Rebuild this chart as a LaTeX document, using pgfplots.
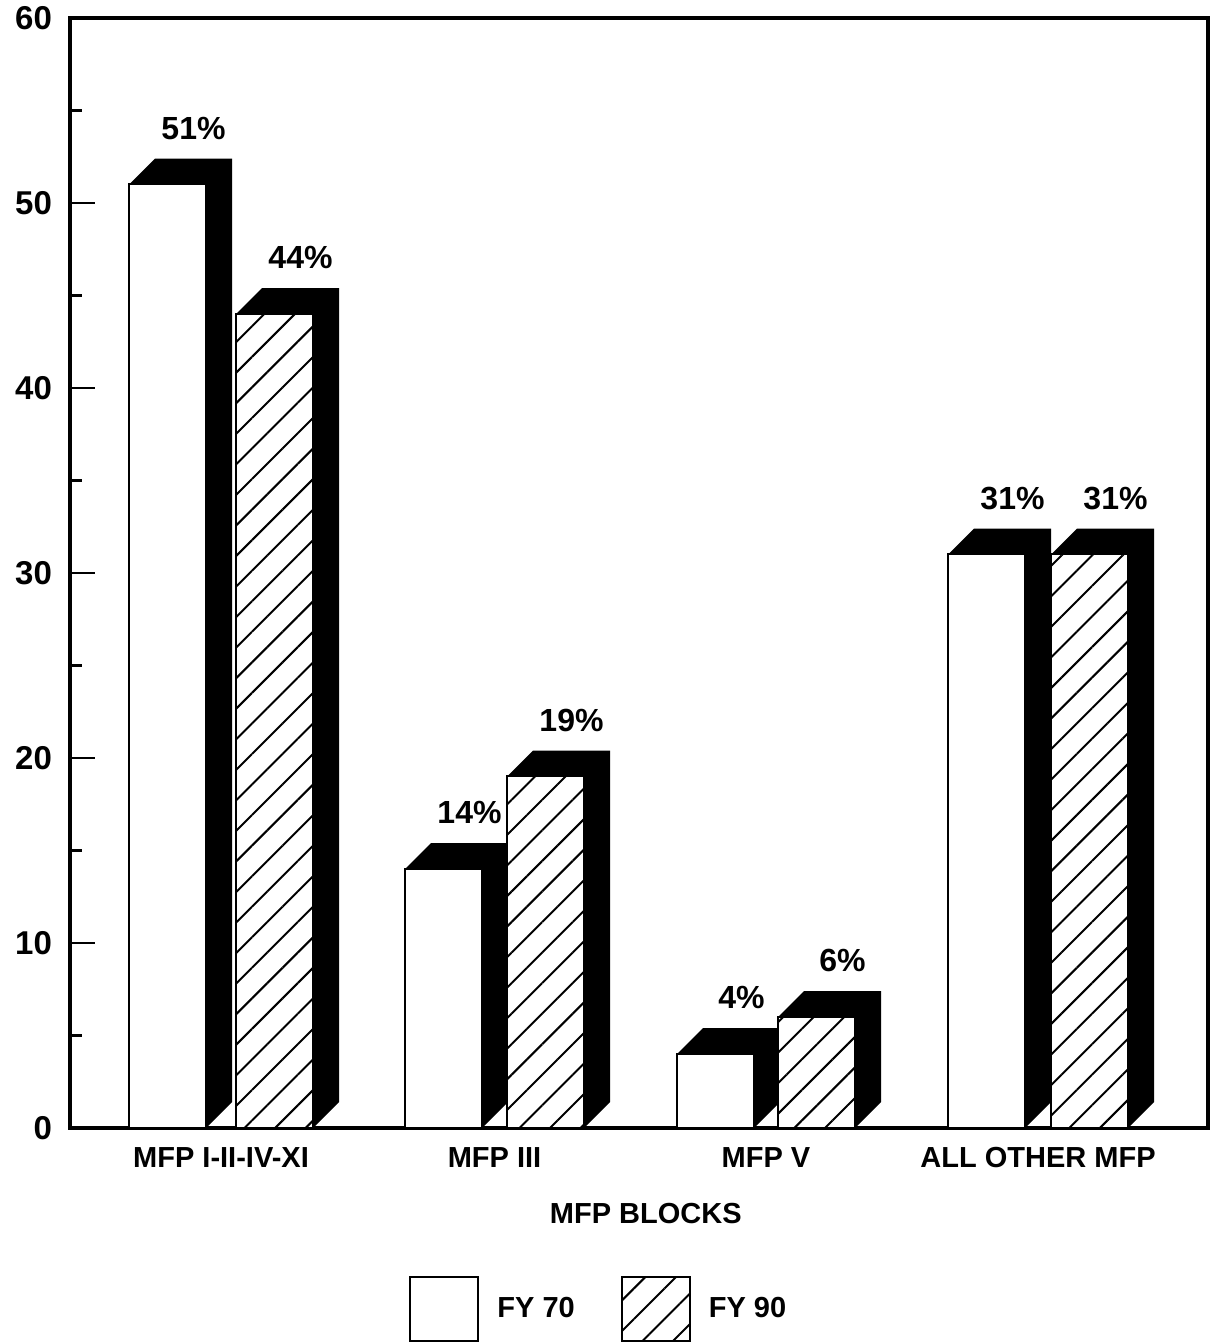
\documentclass[border=0pt]{standalone}
\usepackage{pgfplots}
\pgfplotsset{compat=1.18}
\usepackage{fontspec}
\setmainfont{Liberation Sans}
\usetikzlibrary{patterns.meta}
\newcommand\lab{\fontsize{14.5}{17}\selectfont\bfseries}
\newcommand\tlab{\fontsize{16.5}{19}\selectfont\bfseries}
\newcommand\plab{\fontsize{16}{19}\selectfont\bfseries}
\tikzset{hatch/.style={fill=white, postaction={pattern={Lines[angle=45,distance=10.8pt,line width=1pt]}}}}
\begin{document}
\begin{tikzpicture}
\path[use as bounding box] (0,0) rectangle (605pt,671pt);
\begin{axis}[
  at={(35pt,107pt)}, anchor=south west,
  scale only axis, width=569pt, height=555pt,
  xmin=70, xmax=1208, ymin=0, ymax=60,
  clip=false, no markers,
  axis line style={line width=1.6pt},
  ytick={0,10,...,60}, minor ytick={5,15,...,55},
  ytick pos=left, tick align=inside,
  major tick length=12.5pt, minor tick length=6pt,
  every tick/.style={line width=1.2pt, black},
  xtick={221,494.5,766,1038},
  xticklabels={MFP I-II-IV-XI, MFP III, MFP V, ALL OTHER MFP},
  xtick style={draw=none},
  xticklabel style={font=\lab, yshift=-6pt},
  yticklabel style={font=\tlab, xshift=-5.5pt},
  /pgf/number format/assume math mode=true,
  xlabel={MFP BLOCKS},
  xlabel style={font=\lab, at={(axis description cs:0.506,0)}, anchor=north, yshift=-34pt},
  legend image code/.code={\draw[#1, line width=1pt] (0pt,-16pt) rectangle (34pt,16pt);},
  legend columns=2,
  legend style={draw=none, fill=none, inner sep=0pt, font=\lab,
    at={(0.2979,-0.163)}, anchor=west,
    /tikz/every odd column/.append style={column sep=7pt},
    /tikz/every even column/.append style={column sep=21pt}},
]
% FY 70 front faces
\addplot[draw=black, line width=1pt, fill=white] coordinates {(129,0)(129,51)(206,51)(206,0)} \closedcycle;
\addlegendentry{FY 70}
\addplot[fill=black, draw=none, forget plot] coordinates {(129,51)(155,52.4)(232,52.4)(232,1.4)(206,0)(206,51)};
\addplot[draw=black, line width=1pt, fill=white, forget plot] coordinates {(405,0)(405,14)(482,14)(482,0)} \closedcycle;
\addplot[fill=black, draw=none, forget plot] coordinates {(405,14)(431,15.4)(508,15.4)(508,1.4)(482,0)(482,14)};
\addplot[draw=black, line width=1pt, fill=white, forget plot] coordinates {(677,0)(677,4)(754,4)(754,0)} \closedcycle;
\addplot[fill=black, draw=none, forget plot] coordinates {(677,4)(703,5.4)(780,5.4)(780,1.4)(754,0)(754,4)};
\addplot[draw=black, line width=1pt, fill=white, forget plot] coordinates {(948,0)(948,31)(1025,31)(1025,0)} \closedcycle;
\addplot[fill=black, draw=none, forget plot] coordinates {(948,31)(974,32.4)(1051,32.4)(1051,1.4)(1025,0)(1025,31)};
% FY 90 front faces
\addplot[draw=black, line width=1pt, hatch] coordinates {(236,0)(236,44)(313,44)(313,0)} \closedcycle;
\addlegendentry{FY 90}
\addplot[fill=black, draw=none, forget plot] coordinates {(236,44)(262,45.4)(339,45.4)(339,1.4)(313,0)(313,44)};
\addplot[draw=black, line width=1pt, hatch, forget plot] coordinates {(507,0)(507,19)(584,19)(584,0)} \closedcycle;
\addplot[fill=black, draw=none, forget plot] coordinates {(507,19)(533,20.4)(610,20.4)(610,1.4)(584,0)(584,19)};
\addplot[draw=black, line width=1pt, hatch, forget plot] coordinates {(778,0)(778,6)(855,6)(855,0)} \closedcycle;
\addplot[fill=black, draw=none, forget plot] coordinates {(778,6)(804,7.4)(881,7.4)(881,1.4)(855,0)(855,6)};
\addplot[draw=black, line width=1pt, hatch, forget plot] coordinates {(1051,0)(1051,31)(1128,31)(1128,0)} \closedcycle;
\addplot[fill=black, draw=none, forget plot] coordinates {(1051,31)(1077,32.4)(1154,32.4)(1154,1.4)(1128,0)(1128,31)};
% value labels
\begin{scope}[every node/.style={font=\plab, anchor=south, yshift=6pt}]
\node at (axis cs:193.5,52.4) {51\%};
\node at (axis cs:469.5,15.4) {14\%};
\node at (axis cs:741.5,5.4) {4\%};
\node at (axis cs:1012.5,32.4) {31\%};
\node at (axis cs:300.5,45.4) {44\%};
\node at (axis cs:571.5,20.4) {19\%};
\node at (axis cs:842.5,7.4) {6\%};
\node at (axis cs:1115.5,32.4) {31\%};
\end{scope}
\end{axis}
\end{tikzpicture}
\end{document}
